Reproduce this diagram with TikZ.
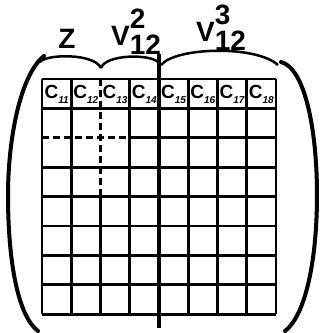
\documentclass[tikz,border=0pt]{standalone}
\usepackage{fontspec}
\setmainfont{Liberation Sans}
\tikzset{
  gridline/.style={line width=2.7pt},
  dashline/.style={line width=2.7pt, dash pattern=on 7pt off 4pt},
  bracket/.style={line width=4pt, line cap=round},
  brace/.style={line width=2.5pt},
  lbl/.style={font=\fontsize{28}{28}\selectfont\bfseries, inner sep=0pt},
  cell/.style={font=\fontsize{19}{19}\selectfont\bfseries, inner sep=0pt}
}
\begin{document}
\begin{tikzpicture}[x=1pt,y=-1pt]
\useasboundingbox (0,0) rectangle (322,333);
% group labels above the braces
\node[lbl] (z) at (67,39) {Z};
\node[lbl, anchor=base west] (vtwo) at (111,45) {V\rlap{\raisebox{17pt}{2}}\raisebox{-9pt}{12}};
\node[lbl, anchor=base west] (vthree) at (196,41) {V\rlap{\raisebox{17pt}{3}}\raisebox{-9pt}{12}};

% braces over the first row
\draw[brace] (40,62) .. controls (46,54) and (94,53) .. (101,68);
\draw[brace] (101,68) .. controls (106,54) and (150,54) .. (158,62);
\draw[brace] (161,65) .. controls (176,47) and (256,45) .. (278,65);

% big brackets round the matrix
\draw[bracket] (44,56) .. controls (20,75) and (8,140) .. (8,195) .. controls (8,262) and (18,316) .. (38,331);
\draw[bracket] (281,62) .. controls (305,68) and (317,130) .. (317,195) .. controls (317,262) and (305,316) .. (285,331);

% grid, 8 columns and 8 rows
\foreach \i in {0,1,3,5,6,7,8}
  \draw[gridline] ({42+\i*29.25},79) -- ({42+\i*29.25},314.2);
\foreach \j in {0,1,3,4,5,6,7,8}
  \draw[gridline] (42,{79+\j*29.4}) -- (276,{79+\j*29.4});
\draw[dashline] (100.5,79) -- (100.5,196.6);
\draw[gridline] (100.5,196.6) -- (100.5,314.2);
\draw[dashline] (42,137.8) -- (130.75,137.8);
\draw[gridline] (130.75,137.8) -- (276,137.8);
\draw[line width=3.4pt] (159,54) -- (159,328);

% first row entries
\foreach \k in {1,...,8}
  \node[cell] (c1\k) at ({42+(\k-0.5)*29.25},94) {C\raisebox{-5pt}{\fontsize{10}{10}\selectfont\itshape 1\k}};
\end{tikzpicture}
\end{document}
